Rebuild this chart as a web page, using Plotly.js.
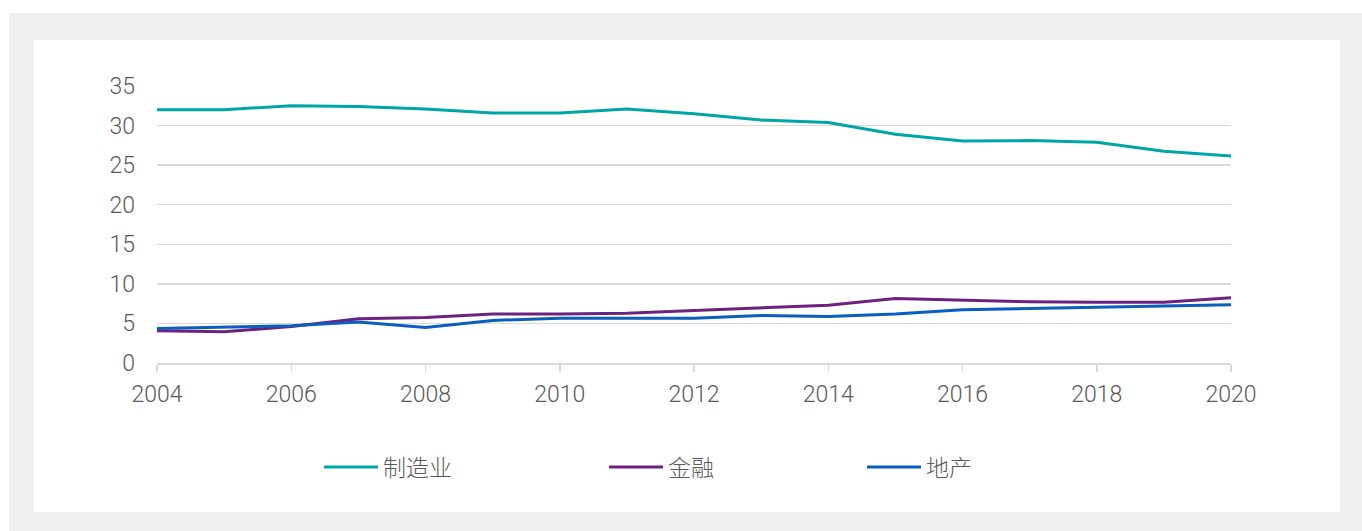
<!DOCTYPE html>
<html>
<head>
<meta charset="utf-8">
<script src="https://cdn.plot.ly/plotly-3.0.1.min.js"></script>
<style>
  html, body { margin: 0; padding: 0; background: #ffffff; width: 1362px; height: 531px; overflow: hidden; }
  #frame { position: absolute; left: 9px; top: 13px; width: 1353px; height: 518px; background: #f0f0f0; }
  #panel { position: absolute; left: 34px; top: 40px; width: 1306px; height: 472px; background: #ffffff; }
  #chart { position: absolute; left: 0; top: 0; width: 1362px; height: 531px; }
</style>
</head>
<body>
<div id="frame"></div>
<div id="panel"></div>
<div id="chart"></div>
<script>
const years = [2004, 2005, 2006, 2007, 2008, 2009, 2010, 2011, 2012, 2013, 2014, 2015, 2016, 2017, 2018, 2019, 2020];
const manufacturing = [32.0, 32.0, 32.5, 32.4, 32.1, 31.6, 31.6, 32.1, 31.5, 30.7, 30.4, 28.9, 28.05, 28.1, 27.9, 26.75, 26.15];
const finance = [4.08, 3.95, 4.6, 5.6, 5.76, 6.18, 6.18, 6.3, 6.64, 7.0, 7.3, 8.15, 7.98, 7.73, 7.68, 7.68, 8.24];
const realEstate = [4.37, 4.54, 4.7, 5.17, 4.5, 5.38, 5.67, 5.67, 5.67, 6.0, 5.88, 6.18, 6.72, 6.89, 7.06, 7.14, 7.35];
const seriesNames = ['制造业', '金融', '地产'];
const yTicks = [0, 5, 10, 15, 20, 25, 30, 35];
const xTicks = [2004, 2006, 2008, 2010, 2012, 2014, 2016, 2018, 2020];

const fontFamily = 'Roboto, "Noto Sans CJK SC", sans-serif';
const textColor = '#595959';

const traces = [
  { x: years, y: manufacturing, name: seriesNames[0], type: 'scatter', mode: 'lines',
    line: { color: '#00a5a5', width: 3 }, legend: 'legend' },
  { x: years, y: finance, name: seriesNames[1], type: 'scatter', mode: 'lines',
    line: { color: '#6e2280', width: 3 }, legend: 'legend2' },
  { x: years, y: realEstate, name: seriesNames[2], type: 'scatter', mode: 'lines',
    line: { color: '#0a5ebd', width: 3 }, legend: 'legend3' }
];

const legendBase = {
  orientation: 'h', xref: 'container', yref: 'container', yanchor: 'middle', xanchor: 'left',
  bgcolor: 'rgba(0,0,0,0)', font: { family: '"Noto Sans CJK SC", sans-serif', size: 23, color: textColor, weight: 300 },
  itemwidth: 54
};

const layout = {
  width: 1362, height: 531,
  paper_bgcolor: 'rgba(0,0,0,0)', plot_bgcolor: 'rgba(0,0,0,0)',
  margin: { l: 157, r: 131, t: 86, b: 168 },
  showlegend: true,
  legend: Object.assign({}, legendBase, { x: 319 / 1362, y: 1 - 467 / 531 }),
  legend2: Object.assign({}, legendBase, { x: 604 / 1362, y: 1 - 467 / 531 }),
  legend3: Object.assign({}, legendBase, { x: 862 / 1362, y: 1 - 467 / 531 }),
  xaxis: {
    range: [2004, 2020], tickvals: xTicks, ticktext: xTicks.map(String),
    showgrid: false, zeroline: false, showline: true, linecolor: '#d9d9d9', linewidth: 1.5,
    ticks: 'outside', ticklen: 7, tickcolor: '#d9d9d9', tickwidth: 1.5,
    ticklabelstandoff: 3,
    tickfont: { family: fontFamily, size: 23, color: textColor, weight: 300 },
    fixedrange: true
  },
  yaxis: {
    range: [0, 35], tickvals: yTicks, ticktext: yTicks.map(String),
    showgrid: true, gridcolor: '#d9d9d9', gridwidth: 1.5, zeroline: false, showline: false,
    ticks: '', ticklabelstandoff: 21,
    tickfont: { family: fontFamily, size: 23, color: textColor, weight: 300 },
    fixedrange: true
  }
};

Plotly.newPlot('chart', traces, layout, { displayModeBar: false, staticPlot: true });
</script>
</body>
</html>
